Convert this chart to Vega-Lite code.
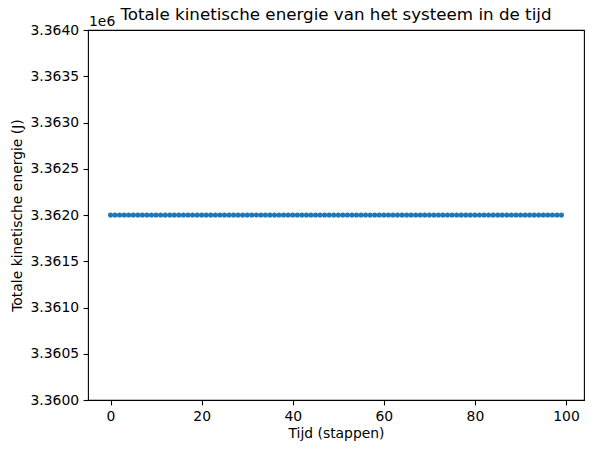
{
  "$schema": "https://vega.github.io/schema/vega-lite/v6.json",
  "width": 496,
  "height": 370,
  "autosize": {"type": "none"},
  "padding": {"left": 88, "top": 30, "right": 10, "bottom": 53},
  "background": "white",
  "config": {
    "font": "DejaVu Sans",
    "view": {"stroke": "black", "strokeWidth": 1.1},
    "axis": {
      "grid": false,
      "domain": false,
      "tickColor": "black",
      "tickSize": 4.9,
      "tickWidth": 1.1,
      "labelColor": "black",
      "labelFontSize": 13.9,
      "labelPadding": 4.5,
      "titleColor": "black",
      "titleFontSize": 13.9,
      "titleFontWeight": "normal"
    },
    "title": {"fontSize": 16.7, "fontWeight": "normal", "color": "black", "offset": 0, "dy": 13}
  },
  "title": {"text": "Totale kinetische energie van het systeem in de tijd", "anchor": "middle"},
  "data": {
    "values": [
      {"t": 0, "E": 3362000}, {"t": 1, "E": 3362000}, {"t": 2, "E": 3362000}, {"t": 3, "E": 3362000}, {"t": 4, "E": 3362000},
      {"t": 5, "E": 3362000}, {"t": 6, "E": 3362000}, {"t": 7, "E": 3362000}, {"t": 8, "E": 3362000}, {"t": 9, "E": 3362000},
      {"t": 10, "E": 3362000}, {"t": 11, "E": 3362000}, {"t": 12, "E": 3362000}, {"t": 13, "E": 3362000}, {"t": 14, "E": 3362000},
      {"t": 15, "E": 3362000}, {"t": 16, "E": 3362000}, {"t": 17, "E": 3362000}, {"t": 18, "E": 3362000}, {"t": 19, "E": 3362000},
      {"t": 20, "E": 3362000}, {"t": 21, "E": 3362000}, {"t": 22, "E": 3362000}, {"t": 23, "E": 3362000}, {"t": 24, "E": 3362000},
      {"t": 25, "E": 3362000}, {"t": 26, "E": 3362000}, {"t": 27, "E": 3362000}, {"t": 28, "E": 3362000}, {"t": 29, "E": 3362000},
      {"t": 30, "E": 3362000}, {"t": 31, "E": 3362000}, {"t": 32, "E": 3362000}, {"t": 33, "E": 3362000}, {"t": 34, "E": 3362000},
      {"t": 35, "E": 3362000}, {"t": 36, "E": 3362000}, {"t": 37, "E": 3362000}, {"t": 38, "E": 3362000}, {"t": 39, "E": 3362000},
      {"t": 40, "E": 3362000}, {"t": 41, "E": 3362000}, {"t": 42, "E": 3362000}, {"t": 43, "E": 3362000}, {"t": 44, "E": 3362000},
      {"t": 45, "E": 3362000}, {"t": 46, "E": 3362000}, {"t": 47, "E": 3362000}, {"t": 48, "E": 3362000}, {"t": 49, "E": 3362000},
      {"t": 50, "E": 3362000}, {"t": 51, "E": 3362000}, {"t": 52, "E": 3362000}, {"t": 53, "E": 3362000}, {"t": 54, "E": 3362000},
      {"t": 55, "E": 3362000}, {"t": 56, "E": 3362000}, {"t": 57, "E": 3362000}, {"t": 58, "E": 3362000}, {"t": 59, "E": 3362000},
      {"t": 60, "E": 3362000}, {"t": 61, "E": 3362000}, {"t": 62, "E": 3362000}, {"t": 63, "E": 3362000}, {"t": 64, "E": 3362000},
      {"t": 65, "E": 3362000}, {"t": 66, "E": 3362000}, {"t": 67, "E": 3362000}, {"t": 68, "E": 3362000}, {"t": 69, "E": 3362000},
      {"t": 70, "E": 3362000}, {"t": 71, "E": 3362000}, {"t": 72, "E": 3362000}, {"t": 73, "E": 3362000}, {"t": 74, "E": 3362000},
      {"t": 75, "E": 3362000}, {"t": 76, "E": 3362000}, {"t": 77, "E": 3362000}, {"t": 78, "E": 3362000}, {"t": 79, "E": 3362000},
      {"t": 80, "E": 3362000}, {"t": 81, "E": 3362000}, {"t": 82, "E": 3362000}, {"t": 83, "E": 3362000}, {"t": 84, "E": 3362000},
      {"t": 85, "E": 3362000}, {"t": 86, "E": 3362000}, {"t": 87, "E": 3362000}, {"t": 88, "E": 3362000}, {"t": 89, "E": 3362000},
      {"t": 90, "E": 3362000}, {"t": 91, "E": 3362000}, {"t": 92, "E": 3362000}, {"t": 93, "E": 3362000}, {"t": 94, "E": 3362000},
      {"t": 95, "E": 3362000}, {"t": 96, "E": 3362000}, {"t": 97, "E": 3362000}, {"t": 98, "E": 3362000}, {"t": 99, "E": 3362000}
    ]
  },
  "layer": [
    {
      "mark": {"type": "line", "color": "#1f77b4", "strokeWidth": 2},
      "encoding": {
        "x": {
          "field": "t", "type": "quantitative",
          "scale": {"domain": [-4.95, 103.95], "nice": false, "zero": false},
          "axis": {"values": [0, 20, 40, 60, 80, 100], "title": "Tijd (stappen)", "titlePadding": 3}
        },
        "y": {
          "field": "E", "type": "quantitative",
          "scale": {"domain": [3360000, 3364000], "nice": false, "zero": false},
          "axis": {
            "values": [3360000, 3360500, 3361000, 3361500, 3362000, 3362500, 3363000, 3363500, 3364000],
            "labelExpr": "format(datum.value / 1000000, '.4f')",
            "title": "Totale kinetische energie (J)",
            "titlePadding": 5
          }
        }
      }
    },
    {
      "mark": {"type": "circle", "color": "#1f77b4", "opacity": 1, "size": 26},
      "encoding": {
        "x": {"field": "t", "type": "quantitative"},
        "y": {"field": "E", "type": "quantitative"}
      }
    },
    {
      "data": {"values": [{"label": "1e6", "t": -4.95, "E": 3364000}]},
      "mark": {"type": "text", "align": "left", "baseline": "alphabetic", "fontSize": 13.9, "dy": -4, "dx": 1, "color": "black"},
      "encoding": {
        "x": {"field": "t", "type": "quantitative"},
        "y": {"field": "E", "type": "quantitative"},
        "text": {"field": "label"}
      }
    }
  ]
}
